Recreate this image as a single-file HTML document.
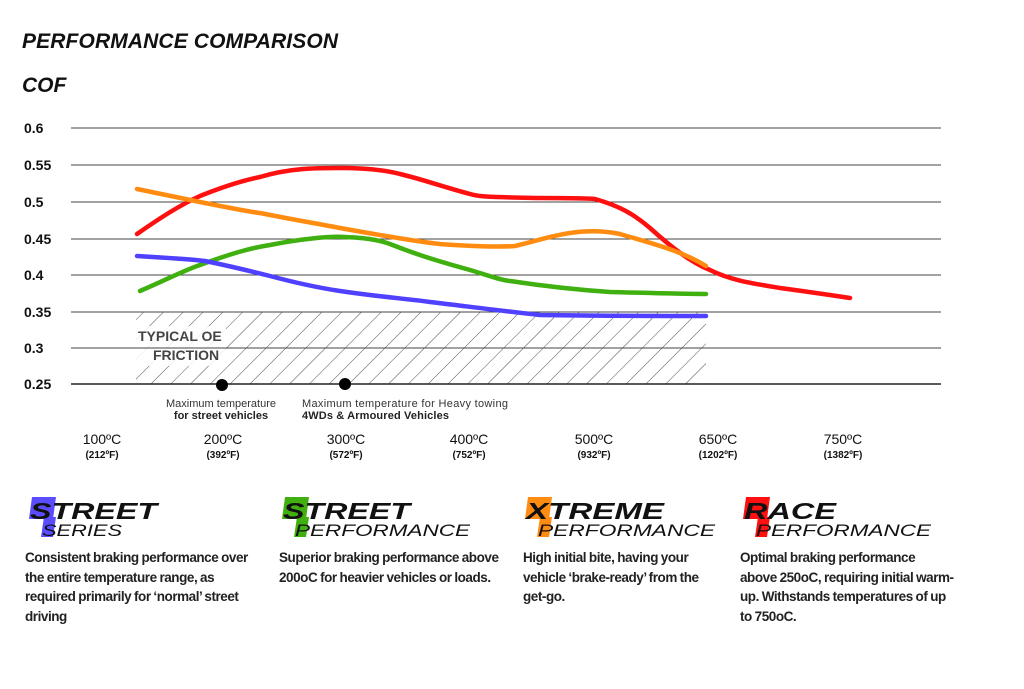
<!DOCTYPE html>
<html><head><meta charset="utf-8"><style>
body{margin:0;background:#fff;width:1024px;height:689px;overflow:hidden;font-family:"Liberation Sans",sans-serif}
.d{position:absolute;font-size:13.5px;font-weight:bold;color:#222;line-height:19.5px;letter-spacing:-0.45px;word-spacing:-0.5px}
</style></head><body>
<svg width="1024" height="689" style="position:absolute;left:0;top:0" font-family="Liberation Sans, sans-serif">
<defs><pattern id="h" width="14" height="14" patternUnits="userSpaceOnUse" patternTransform="rotate(45)"><line x1="0" y1="0" x2="0" y2="14" stroke="#222" stroke-width="0.8"/></pattern></defs>
<text x="22" y="48" font-size="21" font-weight="bold" font-style="italic" fill="#111" textLength="316">PERFORMANCE COMPARISON</text>
<text x="22" y="92" font-size="21" font-weight="bold" font-style="italic" fill="#111">COF</text>
<rect x="136" y="312" width="570" height="72" fill="url(#h)"/>
<rect x="136" y="326" width="90" height="40" fill="#fff" opacity="0.85"/>
<g stroke="#444" stroke-width="1">
<line x1="71" y1="128" x2="941" y2="128"/><line x1="71" y1="165" x2="941" y2="165"/><line x1="71" y1="202" x2="941" y2="202"/><line x1="71" y1="239" x2="941" y2="239"/><line x1="71" y1="275" x2="941" y2="275"/><line x1="71" y1="312" x2="941" y2="312"/><line x1="71" y1="348" x2="941" y2="348"/><line x1="71" y1="384" x2="941" y2="384" stroke="#222" stroke-width="1.5"/>
</g>
<g font-size="14" fill="#111" font-weight="bold">
<text x="24" y="133">0.6</text><text x="24" y="170">0.55</text><text x="24" y="207">0.5</text><text x="24" y="244">0.45</text><text x="24" y="280">0.4</text><text x="24" y="317">0.35</text><text x="24" y="353">0.3</text><text x="24" y="389">0.25</text>
</g>
<text x="138" y="341" font-size="14" font-weight="bold" fill="#444">TYPICAL OE</text>
<text x="153" y="360" font-size="14" font-weight="bold" fill="#444">FRICTION</text>
<g fill="none" stroke-width="4.5" stroke-linecap="round" stroke-linejoin="round">
<path stroke="#ff1010" d="M137,234 C160,218 180,205 200,196 C225,186 245,180 260,177 C290,168 315,168 340,168 C365,168 385,170 400,174 C425,180 440,186 470,194 C480,197 490,197 540,198 C570,198 585,198 595,199 C620,206 635,215 650,228 C670,246 690,262 710,270 C730,280 750,283 780,288 C810,292 830,295 850,298"/>
<path stroke="#ff8c10" d="M137,189 C170,196 185,199 200,202 C230,208 250,212 260,213 C300,221 320,224 340,228 C390,237 420,242 440,244 C480,247 500,247 515,246 C540,240 550,236 570,233 C590,230 605,231 620,234 C650,243 680,250 706,266"/>
<path stroke="#3fb010" d="M140,291 C170,278 185,270 200,265 C230,254 250,248 270,245 C300,239 330,236 345,237 C365,238 375,239 390,244 C410,252 430,259 470,270 C490,276 500,280 510,281 C550,287 580,290 610,292 C650,293 680,294 706,294"/>
<path stroke="#5040ff" d="M137,256 C170,258 190,259 205,261 C230,266 250,271 270,276 C300,284 320,288 340,291 C380,297 410,299 430,302 C480,308 520,313 540,315 C600,316 660,316 706,316"/>
</g>
<circle cx="222" cy="385" r="6" fill="#000"/><circle cx="345" cy="384" r="6" fill="#000"/>
<text x="221" y="407" font-size="11" fill="#333" text-anchor="middle">Maximum temperature</text>
<text x="221" y="419" font-size="11" fill="#222" font-weight="bold" text-anchor="middle">for street vehicles</text>
<text x="302" y="407" font-size="11" fill="#333" textLength="206">Maximum temperature for Heavy towing</text>
<text x="302" y="419" font-size="11" fill="#222" font-weight="bold" textLength="147">4WDs &amp; Armoured Vehicles</text>
<g text-anchor="middle" fill="#111">
<g font-size="14"><text x="102" y="444">100ºC</text><text x="223" y="444">200ºC</text><text x="346" y="444">300ºC</text><text x="469" y="444">400ºC</text><text x="594" y="444">500ºC</text><text x="718" y="444">650ºC</text><text x="843" y="444">750ºC</text></g>
<g font-size="10" font-weight="bold"><text x="102" y="458">(212ºF)</text><text x="223" y="458">(392ºF)</text><text x="346" y="458">(572ºF)</text><text x="469" y="458">(752ºF)</text><text x="594" y="458">(932ºF)</text><text x="718" y="458">(1202ºF)</text><text x="843" y="458">(1382ºF)</text></g>
</g>
<g font-style="italic">
<path d="M32,497 h24 l-3,22 h-24z M44,517 h12 l-3,20 h-12z" fill="#5a4dff"/>
<text x="30" y="519" font-size="23" font-weight="bold" fill="#111" textLength="127" lengthAdjust="spacingAndGlyphs">STREET</text>
<text x="42" y="536" font-size="17" fill="#111" textLength="80" lengthAdjust="spacingAndGlyphs">SERIES</text>
<path d="M285,497 h24 l-3,22 h-24z M297,517 h12 l-3,20 h-12z" fill="#3fb010"/>
<text x="283" y="519" font-size="23" font-weight="bold" fill="#111" textLength="127" lengthAdjust="spacingAndGlyphs">STREET</text>
<text x="295" y="536" font-size="17" fill="#111" textLength="175" lengthAdjust="spacingAndGlyphs">PERFORMANCE</text>
<path d="M528,497 h24 l-3,22 h-24z M540,517 h12 l-3,20 h-12z" fill="#ff8c10"/>
<text x="526" y="519" font-size="23" font-weight="bold" fill="#111" textLength="138" lengthAdjust="spacingAndGlyphs">XTREME</text>
<text x="538" y="536" font-size="17" fill="#111" textLength="177" lengthAdjust="spacingAndGlyphs">PERFORMANCE</text>
<path d="M746,497 h24 l-3,22 h-24z M758,517 h12 l-3,20 h-12z" fill="#ff1010"/>
<text x="744" y="519" font-size="23" font-weight="bold" fill="#111" textLength="92" lengthAdjust="spacingAndGlyphs">RACE</text>
<text x="756" y="536" font-size="17" fill="#111" textLength="175" lengthAdjust="spacingAndGlyphs">PERFORMANCE</text>
</g>
</svg>
<div class="d" style="left:25px;top:548px;width:240px">Consistent braking performance over the entire temperature range, as required primarily for ‘normal’ street driving</div>
<div class="d" style="left:279px;top:548px;width:230px">Superior braking performance above 200oC for heavier vehicles or loads.</div>
<div class="d" style="left:523px;top:548px;width:200px">High initial bite, having your vehicle ‘brake-ready’ from the get-go.</div>
<div class="d" style="left:740px;top:548px;width:260px;white-space:nowrap">Optimal braking performance<br>above 250oC, requiring initial warm-<br>up. Withstands temperatures of up<br>to 750oC.</div>
</body></html>
